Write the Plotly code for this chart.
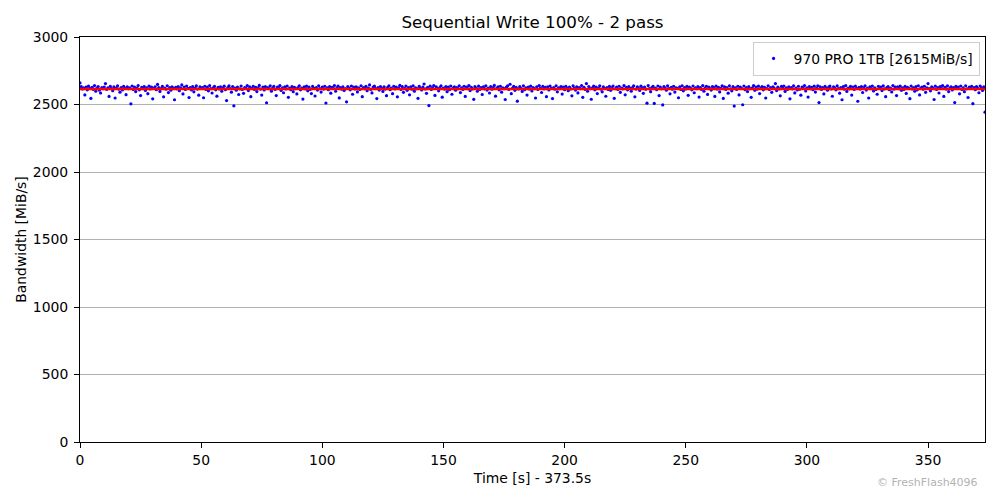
import numpy as np
import plotly.graph_objects as go

title = "Sequential Write 100% - 2 pass"
series_name = "970 PRO 1TB"
avg_bw = 2615
sample_step = 0.5
total_time = 373.5
y_ticks = [0, 500, 1000, 1500, 2000, 2500, 3000]
x_ticks = [0, 50, 100, 150, 200, 250, 300, 350]
watermark = "© FreshFlash4096"

bandwidth = [
    2660, 2632, 2615, 2624, 2571, 2628, 2609, 2636, 2619, 2545, 2627, 2612, 2640, 2598, 2621, 2633, 2606, 2585, 2625, 2617,
    2629, 2655, 2611, 2623, 2560, 2634, 2618, 2602, 2630, 2548, 2622, 2639, 2614, 2591, 2626, 2608, 2635, 2620, 2573, 2631,
    2617, 2624, 2505, 2637, 2612, 2629, 2596, 2621, 2640, 2609, 2566, 2627, 2618, 2633, 2604, 2623, 2580, 2636, 2615, 2628,
    2542, 2620, 2631, 2610, 2649, 2625, 2597, 2618, 2634, 2557, 2622, 2613, 2639, 2588, 2626, 2606, 2630, 2619, 2535, 2627,
    2616, 2633, 2602, 2624, 2645, 2578, 2629, 2611, 2637, 2620, 2552, 2625, 2608, 2632, 2594, 2621, 2638, 2614, 2569, 2630,
    2619, 2626, 2550, 2635, 2612, 2628, 2601, 2640, 2617, 2585, 2623, 2634, 2609, 2562, 2627, 2615, 2631, 2598, 2622, 2636,
    2610, 2529, 2625, 2639, 2618, 2591, 2633, 2490, 2621, 2606, 2629, 2574, 2616, 2637, 2612, 2583, 2626, 2620, 2640, 2603,
    2630, 2558, 2619, 2635, 2611, 2627, 2596, 2623, 2641, 2614, 2570, 2629, 2608, 2632, 2513, 2625, 2617, 2638, 2599, 2621,
    2634, 2612, 2566, 2628, 2619, 2640, 2604, 2624, 2587, 2631, 2615, 2637, 2553, 2622, 2610, 2633, 2595, 2627, 2618, 2578,
    2625, 2639, 2609, 2621, 2540, 2630, 2616, 2636, 2601, 2628, 2612, 2581, 2634, 2620, 2563, 2626, 2607, 2638, 2617, 2592,
    2629, 2614, 2635, 2511, 2623, 2610, 2632, 2584, 2627, 2619, 2640, 2598, 2621, 2636, 2549, 2625, 2613, 2631, 2604, 2618,
    2520, 2633, 2622, 2609, 2637, 2576, 2628, 2615, 2630, 2593, 2624, 2611, 2639, 2558, 2626, 2617, 2634, 2602, 2621, 2645,
    2612, 2586, 2629, 2636, 2618, 2544, 2625, 2607, 2633, 2620, 2597, 2631, 2614, 2565, 2627, 2639, 2610, 2622, 2580, 2635,
    2616, 2628, 2557, 2623, 2641, 2611, 2632, 2590, 2619, 2637, 2605, 2626, 2572, 2630, 2613, 2638, 2599, 2624, 2617, 2546,
    2634, 2620, 2608, 2629, 2652, 2615, 2583, 2627, 2492, 2636, 2611, 2623, 2640, 2567, 2631, 2618, 2601, 2625, 2639, 2554,
    2622, 2614, 2633, 2595, 2628, 2610, 2637, 2576, 2621, 2631, 2606, 2626, 2617, 2639, 2588, 2624, 2612, 2635, 2560, 2629,
    2618, 2640, 2603, 2627, 2615, 2538, 2632, 2620, 2598, 2636, 2611, 2625, 2574, 2630, 2616, 2638, 2607, 2622, 2585, 2633,
    2613, 2626, 2641, 2562, 2619, 2630, 2609, 2635, 2591, 2624, 2617, 2537, 2628, 2639, 2612, 2650, 2580, 2621, 2634, 2605,
    2627, 2525, 2615, 2632, 2619, 2597, 2638, 2610, 2623, 2570, 2629, 2614, 2636, 2600, 2625, 2618, 2548, 2631, 2611, 2640,
    2621, 2589, 2634, 2616, 2627, 2558, 2630, 2608, 2637, 2619, 2544, 2626, 2613, 2639, 2594, 2623, 2617, 2633, 2577, 2628,
    2610, 2635, 2620, 2602, 2629, 2615, 2564, 2638, 2622, 2607, 2631, 2586, 2625, 2618, 2640, 2553, 2627, 2612, 2655, 2598,
    2633, 2617, 2539, 2624, 2636, 2609, 2628, 2581, 2621, 2639, 2614, 2594, 2630, 2619, 2561, 2626, 2611, 2634, 2605, 2623,
    2637, 2546, 2618, 2629, 2612, 2635, 2590, 2622, 2616, 2640, 2572, 2627, 2609, 2632, 2620, 2599, 2625, 2638, 2557, 2614,
    2631, 2619, 2604, 2636, 2623, 2583, 2628, 2613, 2510, 2640, 2617, 2595, 2626, 2634, 2508, 2621, 2610, 2637, 2566, 2629,
    2616, 2497, 2632, 2622, 2606, 2638, 2618, 2579, 2627, 2613, 2635, 2592, 2624, 2619, 2550, 2630, 2611, 2639, 2601, 2625,
    2615, 2634, 2568, 2628, 2620, 2609, 2637, 2587, 2623, 2617, 2632, 2555, 2626, 2612, 2640, 2598, 2621, 2635, 2575, 2629,
    2618, 2607, 2633, 2624, 2560, 2636, 2614, 2627, 2593, 2620, 2638, 2545, 2630, 2611, 2625, 2584, 2639, 2616, 2601, 2632,
    2488, 2623, 2612, 2635, 2571, 2628, 2619, 2498, 2637, 2610, 2626, 2596, 2632, 2617, 2553, 2624, 2640, 2605, 2629, 2614,
    2636, 2581, 2621, 2633, 2609, 2627, 2548, 2618, 2639, 2612, 2625, 2590, 2631, 2620, 2655, 2603, 2628, 2615, 2564, 2634,
    2619, 2637, 2597, 2623, 2611, 2630, 2542, 2626, 2616, 2638, 2586, 2622, 2608, 2635, 2613, 2569, 2629, 2620, 2640, 2600,
    2624, 2555, 2633, 2617, 2627, 2610, 2636, 2592, 2621, 2639, 2514, 2630, 2612, 2625, 2578, 2634, 2619, 2606, 2628, 2637,
    2615, 2561, 2631, 2623, 2609, 2638, 2618, 2584, 2626, 2535, 2632, 2613, 2640, 2597, 2622, 2616, 2634, 2570, 2629, 2611,
    2636, 2620, 2524, 2627, 2614, 2633, 2589, 2625, 2639, 2607, 2621, 2548, 2630, 2617, 2637, 2600, 2624, 2612, 2576, 2635,
    2619, 2628, 2603, 2638, 2616, 2558, 2626, 2633, 2610, 2622, 2593, 2640, 2614, 2629, 2566, 2631, 2618, 2636, 2605, 2623,
    2612, 2634, 2582, 2627, 2620, 2543, 2637, 2615, 2625, 2598, 2632, 2609, 2639, 2571, 2621, 2628, 2613, 2635, 2590, 2624,
    2655, 2617, 2601, 2630, 2622, 2537, 2636, 2611, 2626, 2585, 2633, 2619, 2640, 2560, 2627, 2614, 2638, 2596, 2621, 2631,
    2608, 2625, 2514, 2634, 2618, 2629, 2579, 2637, 2612, 2623, 2595, 2639, 2616, 2552, 2628, 2620, 2635, 2506, 2626, 2610,
    2633, 2619, 2587, 2637, 2624, 2604, 2630, 2443,
]

times = np.arange(len(bandwidth)) * sample_step

FONT = "DejaVu Sans"
FIG_W, FIG_H = 992, 492  # page body has an 8px margin

fig = go.Figure()
fig.add_trace(go.Scatter(
    x=times, y=bandwidth, mode="markers",
    marker=dict(color="#0000ff", size=3.2, line=dict(width=0)),
    name=f"{series_name} [{avg_bw}MiB/s]",
    showlegend=True,
))
fig.add_trace(go.Scatter(
    x=[0, total_time], y=[avg_bw, avg_bw], mode="lines",
    line=dict(color="#ff0000", width=2.5),
    showlegend=False, hoverinfo="skip",
))

fig.update_layout(
    width=FIG_W, height=FIG_H,
    margin=dict(l=72, r=15, t=29, b=58),
    paper_bgcolor="white", plot_bgcolor="white",
    font=dict(family=FONT, size=13.9, color="black"),
    title=dict(text=title, x=0.5, xref="paper", xanchor="center",
               y=1 - 14 / FIG_H, yref="container", yanchor="middle",
               font=dict(family=FONT, size=16.7, color="black")),
    showlegend=True,
    legend=dict(x=0.994, xanchor="right", y=0.988, yanchor="top",
                bgcolor="rgba(255,255,255,0.8)", bordercolor="#cccccc", borderwidth=1,
                itemwidth=30, tracegroupgap=0,
                font=dict(family=FONT, size=13.9, color="black")),
    annotations=[dict(text=watermark, xref="paper", yref="paper", x=0.9945, y=-0.099,
                      xanchor="right", yanchor="middle", showarrow=False,
                      font=dict(family=FONT, size=11, color="#b3b3b3"))],
)
fig.update_xaxes(
    range=[0, total_time], tickvals=x_ticks, showgrid=False, zeroline=False,
    showline=True, linecolor="black", linewidth=1, mirror=True, automargin=False,
    ticks="outside", ticklen=5, tickcolor="black",
    title=dict(text="Time [s] - 373.5s", font=dict(family=FONT, size=13.9), standoff=6),
)
fig.update_yaxes(
    range=[0, 3000], tickvals=y_ticks, showgrid=True, gridcolor="#b0b0b0", gridwidth=1,
    zeroline=False, showline=True, linecolor="black", linewidth=1, mirror=True, automargin=False,
    ticks="outside", ticklen=5, tickcolor="black", ticklabelstandoff=3,
    title=dict(text="Bandwidth [MiB/s]", font=dict(family=FONT, size=13.9), standoff=2),
)

fig.write_html("out.html")
